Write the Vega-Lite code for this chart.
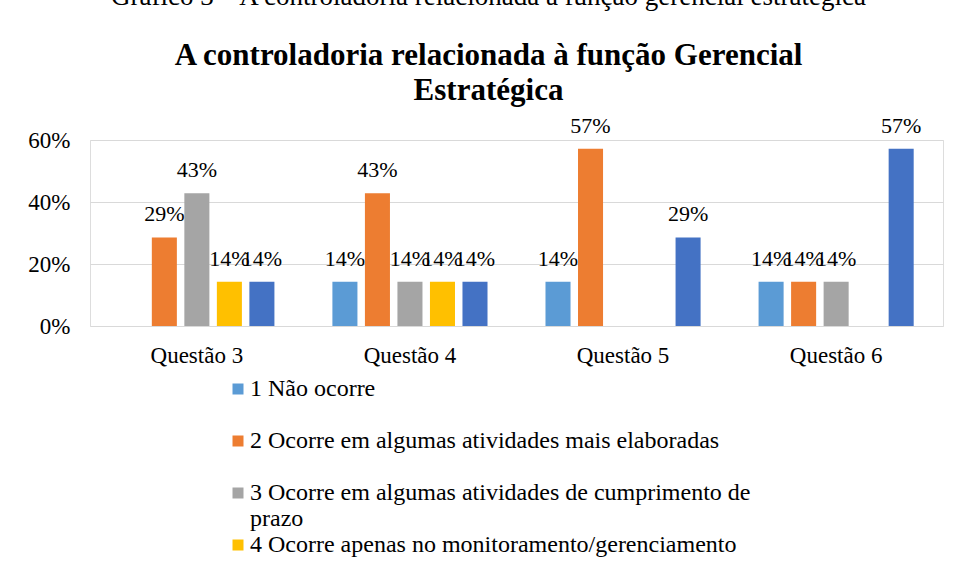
{
  "$schema": "https://vega.github.io/schema/vega-lite/v6.json",
  "autosize": {"type": "none"},
  "padding": {"left": 90, "top": 140, "right": 11, "bottom": 255},
  "width": 853,
  "height": 186,
  "background": "white",
  "config": {"font": "'Liberation Serif', 'Times New Roman', serif"},
  "title": {
    "text": "Gráfico 3 – A controladoria relacionada à função gerencial estratégica",
    "subtitle": ["A controladoria  relacionada à função Gerencial", "Estratégica"],
    "frame": "group",
    "anchor": "middle",
    "dx": -28,
    "offset": 8,
    "font": "'Liberation Serif', 'Times New Roman', serif",
    "fontSize": 27,
    "fontWeight": "normal",
    "color": "black",
    "subtitleFont": "'Liberation Serif', 'Times New Roman', serif",
    "subtitleFontSize": 31,
    "subtitleFontWeight": "bold",
    "subtitleColor": "black",
    "subtitleLineHeight": 35,
    "subtitlePadding": 30
  },
  "data": {
    "values": [
      {"questao": "Questão 3", "serie": "1 Não ocorre", "valor": 0},
      {"questao": "Questão 3", "serie": "2 Ocorre em algumas atividades mais elaboradas", "valor": 0.285714},
      {"questao": "Questão 3", "serie": "3 Ocorre em algumas atividades de cumprimento de prazo", "valor": 0.428571},
      {"questao": "Questão 3", "serie": "4 Ocorre apenas no monitoramento/gerenciamento", "valor": 0.142857},
      {"questao": "Questão 3", "serie": "5 Ocorre em todas as atividades", "valor": 0.142857},
      {"questao": "Questão 4", "serie": "1 Não ocorre", "valor": 0.142857},
      {"questao": "Questão 4", "serie": "2 Ocorre em algumas atividades mais elaboradas", "valor": 0.428571},
      {"questao": "Questão 4", "serie": "3 Ocorre em algumas atividades de cumprimento de prazo", "valor": 0.142857},
      {"questao": "Questão 4", "serie": "4 Ocorre apenas no monitoramento/gerenciamento", "valor": 0.142857},
      {"questao": "Questão 4", "serie": "5 Ocorre em todas as atividades", "valor": 0.142857},
      {"questao": "Questão 5", "serie": "1 Não ocorre", "valor": 0.142857},
      {"questao": "Questão 5", "serie": "2 Ocorre em algumas atividades mais elaboradas", "valor": 0.571429},
      {"questao": "Questão 5", "serie": "3 Ocorre em algumas atividades de cumprimento de prazo", "valor": 0},
      {"questao": "Questão 5", "serie": "4 Ocorre apenas no monitoramento/gerenciamento", "valor": 0},
      {"questao": "Questão 5", "serie": "5 Ocorre em todas as atividades", "valor": 0.285714},
      {"questao": "Questão 6", "serie": "1 Não ocorre", "valor": 0.142857},
      {"questao": "Questão 6", "serie": "2 Ocorre em algumas atividades mais elaboradas", "valor": 0.142857},
      {"questao": "Questão 6", "serie": "3 Ocorre em algumas atividades de cumprimento de prazo", "valor": 0.142857},
      {"questao": "Questão 6", "serie": "4 Ocorre apenas no monitoramento/gerenciamento", "valor": 0},
      {"questao": "Questão 6", "serie": "5 Ocorre em todas as atividades", "valor": 0.571429}
    ]
  },
  "encoding": {
    "x": {
      "field": "questao",
      "type": "nominal",
      "title": null,
      "scale": {"paddingInner": 0.237, "paddingOuter": 0.12},
      "axis": {
        "labelAngle": 0,
        "labelPadding": 18,
        "ticks": false,
        "domain": false,
        "grid": false,
        "labelFont": "'Liberation Serif', 'Times New Roman', serif",
        "labelFontSize": 23,
        "labelColor": "black"
      }
    },
    "xOffset": {
      "field": "serie",
      "type": "nominal",
      "scale": {"paddingInner": 0.23, "paddingOuter": 0.115}
    },
    "y": {
      "field": "valor",
      "type": "quantitative",
      "title": null,
      "scale": {"domain": [0, 0.6]},
      "axis": {
        "format": ".0%",
        "values": [0, 0.2, 0.4, 0.6],
        "ticks": false,
        "domain": false,
        "gridColor": "#D9D9D9",
        "gridWidth": 1,
        "labelPadding": 20,
        "labelFont": "'Liberation Serif', 'Times New Roman', serif",
        "labelFontSize": 23,
        "labelColor": "black"
      }
    }
  },
  "layer": [
    {
      "mark": {"type": "bar"},
      "encoding": {
        "color": {
          "field": "serie",
          "type": "nominal",
          "scale": {
            "domain": [
              "1 Não ocorre",
              "2 Ocorre em algumas atividades mais elaboradas",
              "3 Ocorre em algumas atividades de cumprimento de prazo",
              "4 Ocorre apenas no monitoramento/gerenciamento",
              "5 Ocorre em todas as atividades"
            ],
            "range": ["#5B9BD5", "#ED7D31", "#A5A5A5", "#FFC000", "#4472C4"]
          },
          "legend": {
            "orient": "none",
            "legendX": 136,
            "legendY": 237,
            "title": null,
            "symbolType": "square",
            "symbolSize": 121,
            "symbolStrokeWidth": 0,
            "labelFont": "'Liberation Serif', 'Times New Roman', serif",
            "labelFontSize": 24,
            "labelColor": "black",
            "labelOffset": 0,
            "labelLimit": 800,
            "rowPadding": 2,
            "labelExpr": "datum.label == '3 Ocorre em algumas atividades de cumprimento de prazo' ? ['3 Ocorre em algumas atividades de cumprimento de', 'prazo'] : [datum.label, ' ']"
          }
        }
      }
    },
    {
      "transform": [{"filter": "datum.valor > 0"}],
      "mark": {
        "type": "text",
        "baseline": "middle",
        "dy": -23,
        "font": "'Liberation Serif', 'Times New Roman', serif",
        "fontSize": 22,
        "color": "black"
      },
      "encoding": {
        "text": {"field": "valor", "type": "quantitative", "format": ".0%"}
      }
    }
  ]
}
